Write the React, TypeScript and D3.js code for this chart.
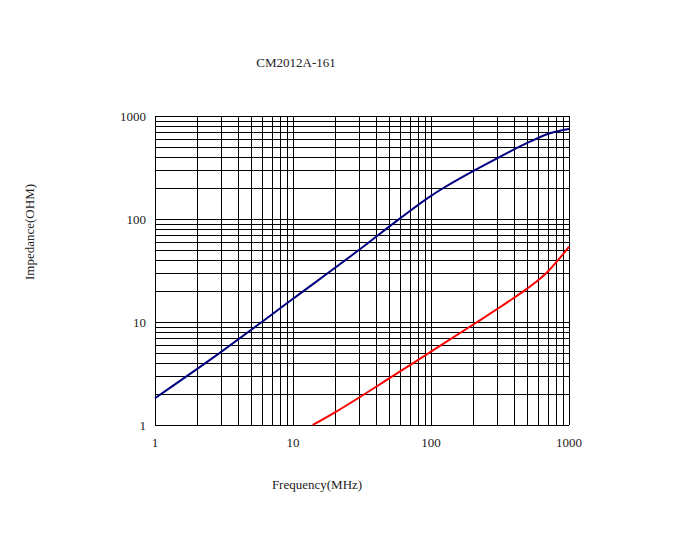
import { useEffect, useRef } from 'react';
import * as d3 from 'd3';

const title = 'CM2012A-161';
const xLabel = 'Frequency(MHz)';
const yLabel = 'Impedance(OHM)';

const xTicks = [1, 10, 100, 1000];
const yTicks = [1, 10, 100, 1000];

// |Z| curve (navy)
const zFreq = [1, 3, 10, 30, 60, 100, 123, 200, 316, 521, 728, 1000];
const zValue = [1.82, 5.1, 16.8, 50, 102, 168, 200, 290, 402, 563, 680, 748];

// R curve (red)
const rFreq = [13.9, 20, 30, 40, 50, 100, 200, 300, 400, 500, 600, 700, 800, 900, 1000];
const rValue = [1, 1.32, 1.84, 2.35, 2.85, 5.15, 9.35, 13.3, 17.2, 21.2, 25.6, 30.8, 37.5, 45, 53.8];

export default function App() {
  const ref = useRef<SVGSVGElement>(null);

  useEffect(() => {
    if (!ref.current) return;
    const svg = d3.select(ref.current);
    svg.selectAll('*').remove();

    const left = 155, right = 569, top = 116, bottom = 425;
    const font = '"Liberation Serif", serif';

    const x = d3.scaleLog().domain([1, 1000]).range([left, right]);
    const y = d3.scaleLog().domain([1, 1000]).range([bottom, top]);

    // grid: every 1..9 within each decade
    const minors: number[] = [];
    for (let d = 1; d < 1000; d *= 10) {
      for (let k = 1; k <= 9; k++) minors.push(d * k);
    }
    minors.push(1000);

    const grid = svg.append('g').attr('stroke', '#000').attr('stroke-width', 1);
    grid.selectAll('.vx')
      .data(minors)
      .enter()
      .append('line')
      .attr('x1', d => Math.round(x(d)) + 0.5)
      .attr('x2', d => Math.round(x(d)) + 0.5)
      .attr('y1', top)
      .attr('y2', bottom);
    grid.selectAll('.hy')
      .data(minors)
      .enter()
      .append('line')
      .attr('y1', d => Math.round(y(d)) + 0.5)
      .attr('y2', d => Math.round(y(d)) + 0.5)
      .attr('x1', left)
      .attr('x2', right);

    // tick labels
    svg.append('g')
      .selectAll('text')
      .data(xTicks)
      .enter()
      .append('text')
      .attr('x', d => x(d))
      .attr('y', 447)
      .attr('text-anchor', 'middle')
      .attr('font-family', font)
      .attr('font-size', 13)
      .attr('fill', '#222')
      .text(d => String(d));

    svg.append('g')
      .selectAll('text')
      .data(yTicks)
      .enter()
      .append('text')
      .attr('x', 146)
      .attr('y', d => y(d) + 4.5)
      .attr('text-anchor', 'end')
      .attr('font-family', font)
      .attr('font-size', 13)
      .attr('fill', '#222')
      .text(d => String(d));

    const line = d3.line<[number, number]>()
      .x(d => x(d[0]))
      .y(d => y(d[1]))
      .curve(d3.curveMonotoneX);

    svg.append('path')
      .datum(zFreq.map((f, i) => [f, zValue[i]] as [number, number]))
      .attr('fill', 'none')
      .attr('stroke', '#000080')
      .attr('stroke-width', 2)
      .attr('d', line);

    svg.append('path')
      .datum(rFreq.map((f, i) => [f, rValue[i]] as [number, number]))
      .attr('fill', 'none')
      .attr('stroke', '#ff0000')
      .attr('stroke-width', 2)
      .attr('d', line);

    svg.append('text')
      .attr('x', 296)
      .attr('y', 67)
      .attr('text-anchor', 'middle')
      .attr('font-family', font)
      .attr('font-size', 13)
      .attr('fill', '#222')
      .text(title);

    svg.append('text')
      .attr('x', 317)
      .attr('y', 489)
      .attr('text-anchor', 'middle')
      .attr('font-family', font)
      .attr('font-size', 13)
      .attr('fill', '#222')
      .text(xLabel);

    svg.append('text')
      .attr('transform', 'translate(34,232) rotate(-90)')
      .attr('text-anchor', 'middle')
      .attr('font-family', font)
      .attr('font-size', 13)
      .attr('fill', '#222')
      .text(yLabel);
  }, []);

  return (
    <svg
      ref={ref}
      width={682}
      height={537}
      style={{ position: 'absolute', left: 0, top: 0, background: '#fff' }}
    />
  );
}
